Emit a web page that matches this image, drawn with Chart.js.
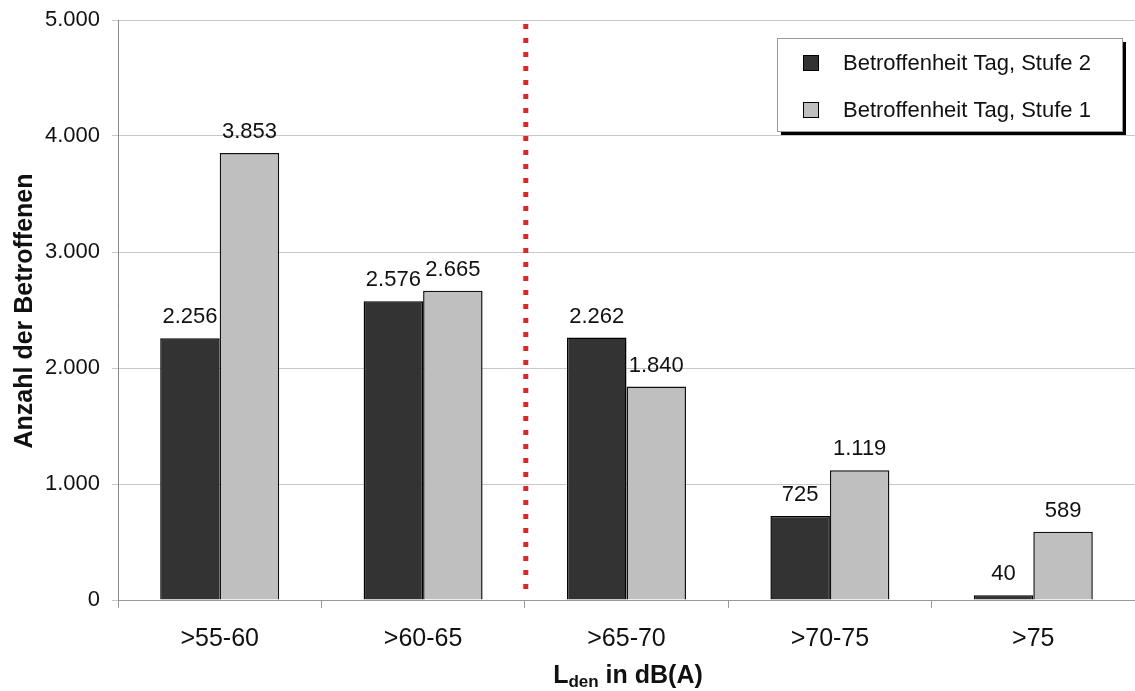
<!DOCTYPE html>
<html>
<head>
<meta charset="utf-8">
<script src="https://cdn.jsdelivr.net/npm/chart.js@4/dist/chart.umd.min.js"></script>
<style>
  html, body { margin: 0; padding: 0; background: #fff; }
  #wrap { width: 1135px; height: 691px; }
</style>
</head>
<body>
<div id="wrap"><canvas id="chart" width="1135" height="691"></canvas></div>
<script>
// -----------------------------
// Data
// -----------------------------
const categories = [">55-60", ">60-65", ">65-70", ">70-75", ">75"];
const stufe2 = [2256, 2576, 2262, 725, 40];
const stufe1 = [3853, 2665, 1840, 1119, 589];
const seriesNames = ["Betroffenheit Tag, Stufe 2", "Betroffenheit Tag, Stufe 1"];
const yTicks = [0, 1000, 2000, 3000, 4000, 5000];

const FONT = "'Liberation Sans', Arial, sans-serif";

function fmt(v) {
  // German thousands separator
  return String(v).replace(/\B(?=(\d{3})+(?!\d))/g, ".");
}

// -----------------------------
// Extras: labels, red line, legend, axis titles
// -----------------------------
const extras = {
  id: "extras",
  afterDatasetsDraw(chart) {
    const ctx = chart.ctx;
    const area = chart.chartArea;
    const x = chart.scales.x;

    // value labels
    ctx.save();
    ctx.font = "22px " + FONT;
    ctx.fillStyle = "#111";
    ctx.textAlign = "center";
    ctx.textBaseline = "alphabetic";
    chart.data.datasets.forEach((ds, di) => {
      chart.getDatasetMeta(di).data.forEach((bar, i) => {
        ctx.fillText(fmt(ds.data[i]), bar.x, bar.y - 15);
      });
    });
    ctx.restore();

    // red dotted separator between 2nd and 3rd category
    const sepX = (x.getPixelForValue(1) + x.getPixelForValue(2)) / 2 + 1;
    ctx.save();
    ctx.fillStyle = "#d42a2a";
    for (let y = area.top + 4; y < area.bottom - 2; y += 14) {
      ctx.fillRect(sepX - 2.5, y, 5, 5);
    }
    ctx.restore();

    // legend box with shadow
    const lx = 777, ly = 38, lw = 345, lh = 93;
    ctx.save();
    ctx.fillStyle = "#000";
    ctx.fillRect(lx + 4, ly + 4, lw, lh);
    ctx.fillStyle = "#fff";
    ctx.fillRect(lx, ly, lw, lh);
    ctx.strokeStyle = "#999";
    ctx.lineWidth = 1;
    ctx.strokeRect(lx + 0.5, ly + 0.5, lw, lh);
    const colors = ["#333333", "#bfbfbf"];
    const rows = [63, 110];
    ctx.font = "22px " + FONT;
    ctx.textAlign = "left";
    ctx.textBaseline = "middle";
    rows.forEach((ry, i) => {
      ctx.fillStyle = colors[i];
      ctx.fillRect(803, ry - 8, 16, 16);
      ctx.strokeStyle = "#000";
      ctx.strokeRect(803.5, ry - 7.5, 15, 15);
      ctx.fillStyle = "#111";
      ctx.fillText(seriesNames[i], 843, ry + 1);
    });
    ctx.restore();

    // y axis title
    ctx.save();
    ctx.translate(25, 311);
    ctx.rotate(-Math.PI / 2);
    ctx.font = "bold 25px " + FONT;
    ctx.fillStyle = "#111";
    ctx.textAlign = "center";
    ctx.textBaseline = "middle";
    ctx.fillText("Anzahl der Betroffenen", 0, 0);
    ctx.restore();

    // x axis title: L_den in dB(A)
    ctx.save();
    ctx.fillStyle = "#111";
    ctx.textBaseline = "alphabetic";
    const partL = "L", partSub = "den", partRest = " in dB(A)";
    ctx.font = "bold 25px " + FONT;
    const wL = ctx.measureText(partL).width;
    const wRest = ctx.measureText(partRest).width;
    ctx.font = "bold 17px " + FONT;
    const wSub = ctx.measureText(partSub).width;
    const total = wL + wSub + wRest;
    let tx = 628 - total / 2;
    const base = 683;
    ctx.textAlign = "left";
    ctx.font = "bold 25px " + FONT;
    ctx.fillText(partL, tx, base);
    tx += wL;
    ctx.font = "bold 17px " + FONT;
    ctx.fillText(partSub, tx, base + 4);
    tx += wSub;
    ctx.font = "bold 25px " + FONT;
    ctx.fillText(partRest, tx, base);
    ctx.restore();
  }
};

// -----------------------------
// Chart
// -----------------------------
chart = new Chart(document.getElementById("chart"), {
  type: "bar",
  data: {
    labels: categories,
    datasets: [
      { label: seriesNames[0], data: stufe2, backgroundColor: "#333333", borderColor: "#000", borderWidth: 1.5 },
      { label: seriesNames[1], data: stufe1, backgroundColor: "#bfbfbf", borderColor: "#111", borderWidth: 1.5 }
    ]
  },
  options: {
    responsive: false,
    animation: false,
    layout: { padding: { top: 20, right: 0, left: 0, bottom: 0 } },
    plugins: { legend: { display: false }, tooltip: { enabled: false } },
    datasets: { bar: { categoryPercentage: 0.585, barPercentage: 1.0 } },
    scales: {
      x: {
        grid: { offset: true, drawOnChartArea: false, color: "#999", tickLength: 8 },
        border: { color: "#999", width: 1 },
        ticks: { font: { size: 25, family: FONT }, color: "#111", padding: 16 },
        afterFit(scale) { scale.height = 91; scale.paddingLeft = 0; scale.paddingRight = 0; }
      },
      y: {
        min: 0, max: 5000,
        afterBuildTicks(scale) { scale.ticks = yTicks.map(v => ({ value: v })); },
        grid: { color: "#c8c8c8", tickLength: 6, lineWidth: 1 },
        border: { color: "#888", width: 1 },
        ticks: { font: { size: 22, family: FONT }, color: "#111", padding: 12, callback: v => fmt(v) },
        afterFit(scale) { scale.width = 118; scale.paddingTop = 0; scale.paddingBottom = 0; }
      }
    }
  },
  plugins: [extras]
});
</script>
</body>
</html>
